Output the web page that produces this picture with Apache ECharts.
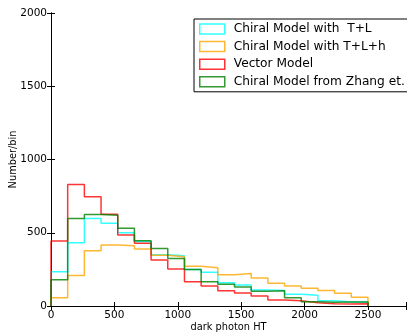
<!DOCTYPE html>
<html>
<head>
<meta charset="utf-8">
<script src="https://cdn.jsdelivr.net/npm/echarts@6/dist/echarts.min.js"></script>
<style>
  html, body { margin: 0; padding: 0; background: #fff; }
  #chart { width: 407px; height: 334px; }
</style>
</head>
<body>
<div id="chart"></div>
<script>
// histogram: 19 bins between 0 and 2500
var binStart = 0
var binEnd = 2500
var binCount = 19

var names = ['Chiral Model with  T+L', 'Chiral Model with T+L+h', 'Vector Model', 'Chiral Model from Zhang et.']
var colors = ['#00ffff', '#ffa500', '#ff0000', '#008000']

var chiralTL = [234, 432, 598, 564, 500, 441, 350, 343, 250, 230, 159, 144, 109, 106, 80, 73, 35, 27, 27]
var chiralTLh = [57, 209, 377, 416, 411, 389, 346, 336, 271, 261, 214, 221, 191, 155, 136, 121, 106, 87, 59]
var vectorModel = [443, 830, 745, 627, 484, 428, 314, 252, 166, 136, 104, 88, 68, 41, 36, 23, 16, 14, 16]
var zhangModel = [180, 598, 625, 620, 530, 445, 393, 325, 250, 166, 148, 130, 100, 104, 57, 29, 25, 27, 27]

// outline of a step histogram, like histtype='step'
function stepPath(values) {
  var w = (binEnd - binStart) / binCount
  var pts = [[binStart, 0]]
  values.forEach(function (v, i) {
    pts.push([binStart + i * w, v])
    pts.push([binStart + (i + 1) * w, v])
  })
  pts.push([binEnd, 0])
  return pts
}

var allValues = [chiralTL, chiralTLh, vectorModel, zhangModel]
var series = allValues.map(function (vals, i) {
  return {
    name: names[i],
    type: 'line',
    data: stepPath(vals),
    showSymbol: false,
    symbol: 'none',
    lineStyle: { color: colors[i], width: 1.5, opacity: 0.8 },
    itemStyle: { color: colors[i] },
    z: 2 + i
  }
})

var font = 'DejaVu Sans'
function plainTick(v) {
  return v % 500 === 0 ? String(v) : ''
}

var chart = echarts.init(document.getElementById('chart'))
chart.setOption({
  animation: false,
  backgroundColor: '#fff',
  grid: { left: 51, right: 1, top: 13, bottom: 28, containLabel: false, outerBoundsMode: 'none' },
  legend: {
    orient: 'vertical',
    left: 194,
    top: 19,
    padding: [4, 6, 4, 5],
    itemWidth: 25,
    itemHeight: 10,
    itemGap: 5.6,
    icon: 'rect',
    borderColor: '#000',
    borderWidth: 1,
    backgroundColor: '#fff',
    textStyle: { fontFamily: font, fontSize: 12.2, color: '#000', padding: [0, 0, 0, 4] },
    data: names.map(function (n, i) {
      return {
        name: n,
        itemStyle: { color: 'rgba(0,0,0,0)', borderColor: colors[i], borderWidth: 1.5, opacity: 0.8 }
      }
    })
  },
  xAxis: [{
    type: 'value',
    min: 0,
    max: 2800,
    interval: 500,
    name: 'dark photon HT',
    nameLocation: 'middle',
    nameGap: 16,
    nameMoveOverlap: false,
    nameTextStyle: { fontFamily: font, fontSize: 9.8, color: '#000' },
    axisLine: { lineStyle: { color: '#000', width: 1 } },
    axisTick: { inside: true, length: 4, lineStyle: { color: '#000' } },
    axisLabel: { fontFamily: font, fontSize: 10.5, color: '#000', margin: 4, formatter: plainTick },
    splitLine: { show: false }
  }, {
    type: 'value',
    position: 'top',
    min: 0,
    max: 2800,
    interval: 500,
    axisLine: { lineStyle: { color: '#000', width: 1 } },
    axisTick: { inside: true, length: 4, lineStyle: { color: '#000' } },
    axisLabel: { show: false },
    splitLine: { show: false }
  }],
  yAxis: [{
    type: 'value',
    min: 0,
    max: 2000,
    interval: 500,
    name: 'Number/bin',
    nameLocation: 'middle',
    nameGap: 33,
    nameMoveOverlap: false,
    nameTextStyle: { fontFamily: font, fontSize: 9.8, color: '#000' },
    axisLine: { show: true, lineStyle: { color: '#000', width: 1 } },
    axisTick: { show: true, inside: true, length: 4, lineStyle: { color: '#000' } },
    axisLabel: { fontFamily: font, fontSize: 10.5, color: '#000', margin: 4, formatter: plainTick },
    splitLine: { show: false }
  }, {
    type: 'value',
    position: 'right',
    min: 0,
    max: 2000,
    interval: 500,
    axisLine: { show: true, lineStyle: { color: '#000', width: 1 } },
    axisTick: { show: true, inside: true, length: 4, lineStyle: { color: '#000' } },
    axisLabel: { show: false },
    splitLine: { show: false }
  }],
  series: series
})
</script>
</body>
</html>
